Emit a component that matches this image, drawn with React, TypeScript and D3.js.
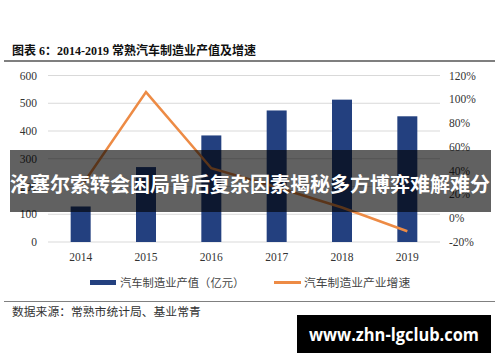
import React from "react";
import * as d3 from "d3";

const years = ["2014", "2015", "2016", "2017", "2018", "2019"];
const outputValues = [128, 270, 384, 474, 513, 453];
const growthValues = [26, 106, 42, 26, 9, -11];
const leftTicks = [0, 100, 200, 300, 400, 500, 600];
const rightTicks = [-20, 0, 20, 40, 60, 80, 100, 120];

const W = 500;
const H = 362;
const SERIF = "'Liberation Serif', 'Noto Sans CJK SC', serif";
const CJK = "'Noto Sans CJK SC', sans-serif";

export default function App() {
  const x = d3
    .scaleBand<string>()
    .domain(years)
    .range([48, 440])
    .paddingInner(0.694)
    .paddingOuter(0.347);
  const yL = d3.scaleLinear().domain([0, 600]).range([242, 75.5]);
  const yR = d3.scaleLinear().domain([-20, 120]).range([242, 75.5]);
  const cx = (d: string) => (x(d) as number) + x.bandwidth() / 2;

  const line = d3
    .line<number>()
    .x((_, i) => cx(years[i]))
    .y((d) => yR(d));

  return (
    <svg
      width={W}
      height={H}
      style={{ position: "absolute", left: 0, top: 0, background: "#fff" }}
    >
      <text x={12} y={54.5} fontFamily={SERIF} fontWeight="bold" fontSize={12} fill="#111">
        图表 6：2014-2019 常熟汽车制造业产值及增速
      </text>
      <line x1={4} x2={495} y1={61} y2={61} stroke="#7f7f7f" strokeWidth={2} />

      {leftTicks.map((t) => (
        <g key={t}>
          <line x1={48} x2={440} y1={yL(t)} y2={yL(t)} stroke="#d9d9d9" strokeWidth={1} />
          <text x={37} y={yL(t) + 4} textAnchor="end" fontFamily={SERIF} fontSize={11.5} fill="#333">
            {t}
          </text>
        </g>
      ))}
      {rightTicks.map((t) => (
        <text key={t} x={449} y={yR(t) + 4} fontFamily={SERIF} fontSize={11.5} fill="#333">
          {t}%
        </text>
      ))}

      {years.map((yr, i) => (
        <rect
          key={yr}
          x={x(yr)}
          y={yL(outputValues[i])}
          width={x.bandwidth()}
          height={yL(0) - yL(outputValues[i])}
          fill="#23407f"
        />
      ))}
      <path d={line(growthValues) || ""} fill="none" stroke="#ed8b45" strokeWidth={2.5} />

      {years.map((yr) => (
        <text key={yr} x={cx(yr)} y={260.5} textAnchor="middle" fontFamily={SERIF} fontSize={11.5} fill="#333">
          {yr}
        </text>
      ))}

      <rect x={90} y={280} width={26} height={5} fill="#23407f" />
      <text x={120} y={286.5} fontFamily={CJK} fontSize={11.3} fill="#444">
        汽车制造业产值（亿元）
      </text>
      <line x1={274} x2={301} y1={282.5} y2={282.5} stroke="#ed8b45" strokeWidth={3} />
      <text x={304} y={286.5} fontFamily={CJK} fontSize={11.8} fill="#444">
        汽车制造业产业增速
      </text>

      <line x1={4} x2={495} y1={301.5} y2={301.5} stroke="#808080" strokeWidth={1} />
      <text x={12} y={315.5} fontFamily={CJK} fontSize={11.8} fill="#333">
        数据来源：常熟市统计局、基业常青
      </text>

      <rect x={10} y={150} width={481} height={62} fill="rgba(0,0,0,0.62)" />
      <text
        x={250}
        y={191.5}
        textAnchor="middle"
        fontFamily={CJK}
        fontWeight="bold"
        fontSize={20}
        fill="#fff"
      >
        洛塞尔索转会困局背后复杂因素揭秘多方博弈难解难分
      </text>

      <rect x={297} y={315} width={194} height={38} fill="#000" />
      <text
        x={309}
        y={341}
        fontFamily="'Open Sans', sans-serif"
        fontWeight="bold"
        fontSize={18}
        fill="#fff"
        textLength={170}
        lengthAdjust="spacingAndGlyphs"
      >
        www.zhn-lgclub.com
      </text>
    </svg>
  );
}
